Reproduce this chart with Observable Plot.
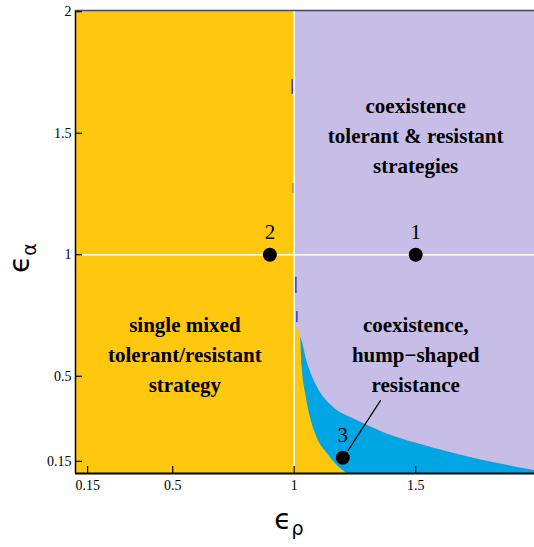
<!DOCTYPE html>
<html><head><meta charset="utf-8">
<script src="https://cdn.jsdelivr.net/npm/d3@7"></script>
<script src="https://cdn.jsdelivr.net/npm/@observablehq/plot@0.6"></script>
<style>
body{margin:0;background:#fff} svg{display:block}
#chart svg text{font-family:'Liberation Serif','DejaVu Serif',serif;}
#chart svg text.axtitle{font-family:'DejaVu Sans',sans-serif;}
</style>
</head><body><div id="chart"></div><script>
// Axis ticks
const xTicks = [0.15, 0.5, 1, 1.5];
const yTicks = [0.15, 0.5, 1, 1.5, 2];
const xDomain = [0.1, 1.989];
const yDomain = [0.1, 2.005];

// Upper boundary (blue / lavender)
const upperX = [1.018, 1.026, 1.055, 1.096, 1.162, 1.232, 1.302, 1.367, 1.507, 1.643, 1.779, 1.919, 1.989];
const upperY = [0.665, 0.660, 0.553, 0.454, 0.372, 0.330, 0.298, 0.269, 0.223, 0.186, 0.153, 0.125, 0.112];

// Lower boundary (yellow / blue)
const lowerX = [1.0, 1.012, 1.026, 1.033, 1.047, 1.067, 1.094, 1.136, 1.177, 1.218];
const lowerY = [0.72, 0.70, 0.66, 0.536, 0.43, 0.33, 0.248, 0.182, 0.133, 0.1];

// Marked points
const pointX = [1.5, 0.9, 1.2];
const pointY = [1, 1, 0.165];
const pointLabel = ["1", "2", "3"];

// Leader line from point 3
const leaderX = [1.222, 1.355];
const leaderY = [0.195, 0.40];

// Region labels
const regionText = ["coexistence\ntolerant & resistant\nstrategies", "single mixed\ntolerant/resistant\nstrategy", "coexistence,\nhump\u2212shaped\nresistance"];
const regionX = [1.5, 0.55, 1.5];
const regionY = [1.5, 0.6, 0.6];

// small rendering artefacts along x = 1
const artX = [0.992, 0.997, 1.007, 1.011];
const artY1 = [1.66, 1.252, 0.841, 0.721];
const artY2 = [1.721, 1.293, 0.907, 0.767];

const YEL = "#FFC70E", LAV = "#C6BEE6", BLUE = "#00A5E4";
const SERIF = "'Liberation Serif', 'DejaVu Serif', serif";

const upper = upperX.map((x, i) => ({x, y: upperY[i]}));
const lower = lowerX.map((x, i) => ({x, y: lowerY[i]}));
const points = pointX.map((x, i) => ({x, y: pointY[i], label: pointLabel[i]}));
const leader = leaderX.map((x, i) => ({x, y: leaderY[i]}));
const regions = regionText.map((t, i) => ({t, x: regionX[i], y: regionY[i]}));
const arts = artX.map((x, i) => ({x, y1: artY1[i], y2: artY2[i]}));

const W = 534, H = 547, mL = 75, mR = 0, mT = 10, mB = 74;
const fw = W - mL - mR, fh = H - mT - mB;

const chart = Plot.plot({
  width: W, height: H,
  marginLeft: mL, marginRight: mR, marginTop: mT, marginBottom: mB,
  x: {domain: xDomain, ticks: xTicks, tickFormat: d => String(d)},
  y: {domain: yDomain, ticks: yTicks, tickFormat: d => String(d)},
  marks: [
    Plot.rect([0], {x1: xDomain[0], x2: xDomain[1], y1: yDomain[0], y2: yDomain[1], fill: LAV}),
    Plot.areaY(upper, {x: "x", y1: yDomain[0], y2: "y", fill: BLUE, curve: "monotone-x"}),
    Plot.areaY(lower, {x: "x", y1: yDomain[0], y2: "y", fill: YEL, curve: "monotone-x"}),
    Plot.rect([0], {x1: xDomain[0], x2: 1, y1: yDomain[0], y2: yDomain[1], fill: YEL}),
    Plot.ruleX(arts, {x: "x", y1: "y1", y2: "y2", stroke: "#4a3fd6", strokeWidth: 1.6}),
    Plot.ruleX([1], {stroke: "white", strokeWidth: 1.5}),
    Plot.ruleY([1], {stroke: "white", strokeWidth: 1.5}),
    // frame lines
    Plot.ruleX([xDomain[0]], {stroke: "black", strokeWidth: 1.5}),
    Plot.ruleY([yDomain[0]], {stroke: "black", strokeWidth: 2}),
    Plot.ruleY([yDomain[1]], {stroke: "#4a4560", strokeWidth: 1.6}),
    // inward ticks
    Plot.ruleX(xTicks, {x: d => d, stroke: "black", strokeWidth: 1.2, insetTop: fh - 7}),
    Plot.ruleY(yTicks, {y: d => d, stroke: "black", strokeWidth: 1.2, insetRight: fw - 7}),
    Plot.axisX({ticks: xTicks, tickSize: 0, tickPadding: 7, fontSize: 14, fontFamily: SERIF, label: null, tickFormat: d => String(d)}),
    Plot.axisY({ticks: yTicks, tickSize: 0, tickPadding: 4, fontSize: 14, fontFamily: SERIF, label: null, tickFormat: d => String(d)}),
    // leader line
    Plot.line(leader, {x: "x", y: "y", stroke: "black", strokeWidth: 1.2}),
    // points
    Plot.dot(points, {x: "x", y: "y", r: 7, fill: "black", stroke: "none"}),
    Plot.text(points, {x: "x", y: "y", text: "label", dy: -22, fontSize: 21, fontFamily: SERIF, fill: "black"}),
    // region labels
    Plot.text(regions, {x: "x", y: "y", text: "t", fontSize: 21, fontFamily: SERIF, fontWeight: "bold", lineHeight: 1.43, fill: "black"})
  ]
});

document.getElementById("chart").appendChild(chart);

// axis titles with subscripts
const svg = d3.select(chart);
const ty = svg.append("text")
  .attr("class", "axtitle")
  .attr("transform", "translate(29,258) rotate(-90)")
  .attr("fill", "black");
ty.append("tspan").attr("font-size", 28).text("\u03F5");
ty.append("tspan").attr("font-size", 19).attr("dy", 7).text("\u03B1");

const tx = svg.append("text")
  .attr("class", "axtitle")
  .attr("transform", "translate(289,529)")
  .attr("fill", "black");
tx.append("tspan").attr("font-size", 28).text("\u03F5");
tx.append("tspan").attr("font-size", 19).attr("dy", 6).text("\u03C1");
</script></body></html>
